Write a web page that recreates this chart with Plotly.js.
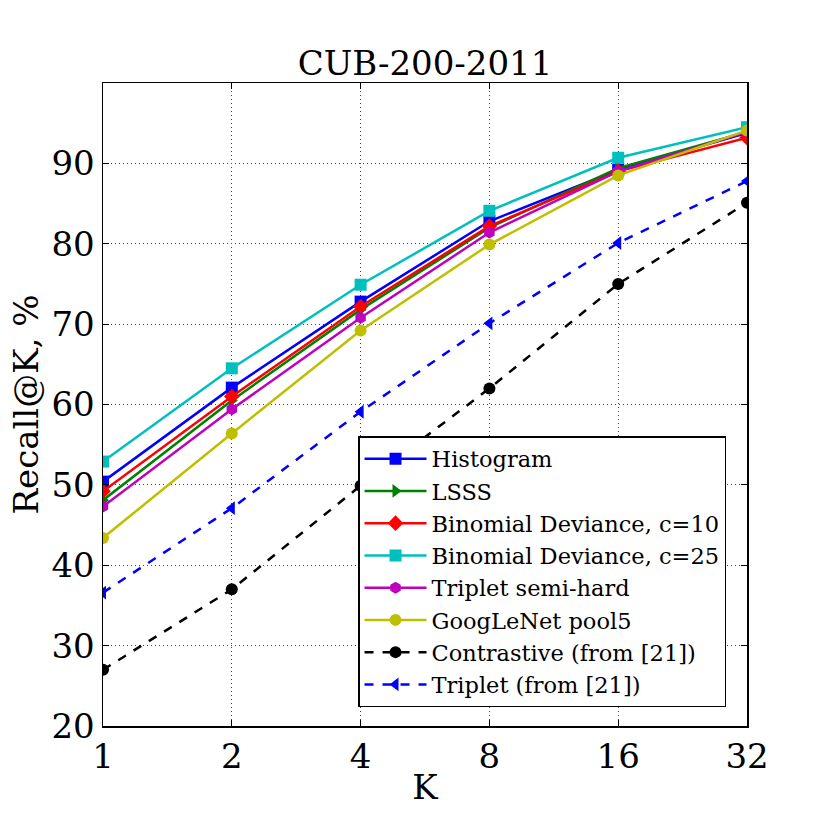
<!DOCTYPE html>
<html>
<head>
<meta charset="utf-8">
<script src="https://cdn.plot.ly/plotly-3.0.1.min.js"></script>
<style>
  body { margin: 0; background: #fff; }
  #plot { width: 830px; height: 830px; }
</style>
</head>
<body>
<div id="plot"></div>
<script>
const K = [1, 2, 4, 8, 16, 32];

const histogram = [50.4, 62.1, 72.8, 82.8, 89.2, 93.8];
const lsss = [48.1, 60.5, 71.8, 82.0, 89.4, 93.9];
const binomial10 = [49.2, 61.0, 72.2, 82.2, 89.0, 93.2];
const binomial25 = [52.9, 64.5, 74.9, 84.1, 90.7, 94.5];
const tripletSemiHard = [47.3, 59.4, 70.8, 81.4, 89.0, 93.9];
const googlenet = [43.4, 56.4, 69.2, 79.9, 88.5, 94.1];
const contrastive = [27.0, 37.0, 49.9, 62.0, 75.0, 85.1];
const triplet = [36.6, 47.1, 59.1, 70.1, 80.1, 87.8];

const yTicks = [20, 30, 40, 50, 60, 70, 80, 90];

const serif = "DejaVu Serif, serif";

function series(name, y, color, symbol, dash) {
    return {
        type: "scatter",
        mode: "lines+markers",
        name: name,
        x: K,
        y: y,
        line: {color: color, width: 2.5, dash: dash || "solid"},
        marker: {color: color, symbol: symbol, size: 12, line: {width: 0}}
    };
}

const traces = [
    series("Histogram", histogram, "#0000ff", "square"),
    series("LSSS", lsss, "#008000", "triangle-right"),
    series("Binomial Deviance, c=10", binomial10, "#ff0000", "diamond"),
    series("Binomial Deviance, c=25", binomial25, "#00bfbf", "square"),
    series("Triplet semi-hard", tripletSemiHard, "#bf00bf", "hexagon"),
    series("GoogLeNet pool5", googlenet, "#bfbf00", "circle"),
    series("Contrastive (from [21])", contrastive, "#000000", "circle", "dash"),
    series("Triplet (from [21])", triplet, "#0000ff", "triangle-left", "dash")
];

const axisStyle = {
    tickfont: {size: 34},
    ticks: "inside",
    ticklen: 6,
    tickcolor: "#000",
    showline: true,
    linecolor: "#000",
    linewidth: 1.5,
    mirror: "ticks",
    showgrid: true,
    gridcolor: "#444",
    griddash: "1px,3px",
    gridwidth: 1,
    zeroline: false
};

Plotly.newPlot("plot", traces, {
    width: 830,
    height: 830,
    margin: {l: 103, r: 83, t: 83, b: 104},
    paper_bgcolor: "#ffffff",
    plot_bgcolor: "#ffffff",
    font: {family: serif, color: "#000000"},
    title: {
        text: "CUB-200-2011",
        font: {family: serif, size: 34},
        x: 0.5,
        xref: "paper",
        y: 1,
        yref: "paper",
        yanchor: "bottom",
        pad: {b: 8}
    },
    xaxis: Object.assign({}, axisStyle, {
        type: "log",
        range: [0, Math.log10(32)],
        tickvals: K,
        ticktext: K.map(String),
        title: {text: "K", font: {family: serif, size: 34}, standoff: 0}
    }),
    yaxis: Object.assign({}, axisStyle, {
        range: [20, 100],
        tickvals: yTicks,
        title: {text: "Recall@K, %", font: {family: serif, size: 34}, standoff: 2}
    }),
    legend: {
        x: 0.396,
        y: 0.451,
        xanchor: "left",
        yanchor: "top",
        bgcolor: "#ffffff",
        bordercolor: "#000000",
        borderwidth: 1.5,
        font: {family: serif, size: 22.5},
        itemwidth: 62
    },
    showlegend: true
}, {staticPlot: true});
</script>
</body>
</html>
